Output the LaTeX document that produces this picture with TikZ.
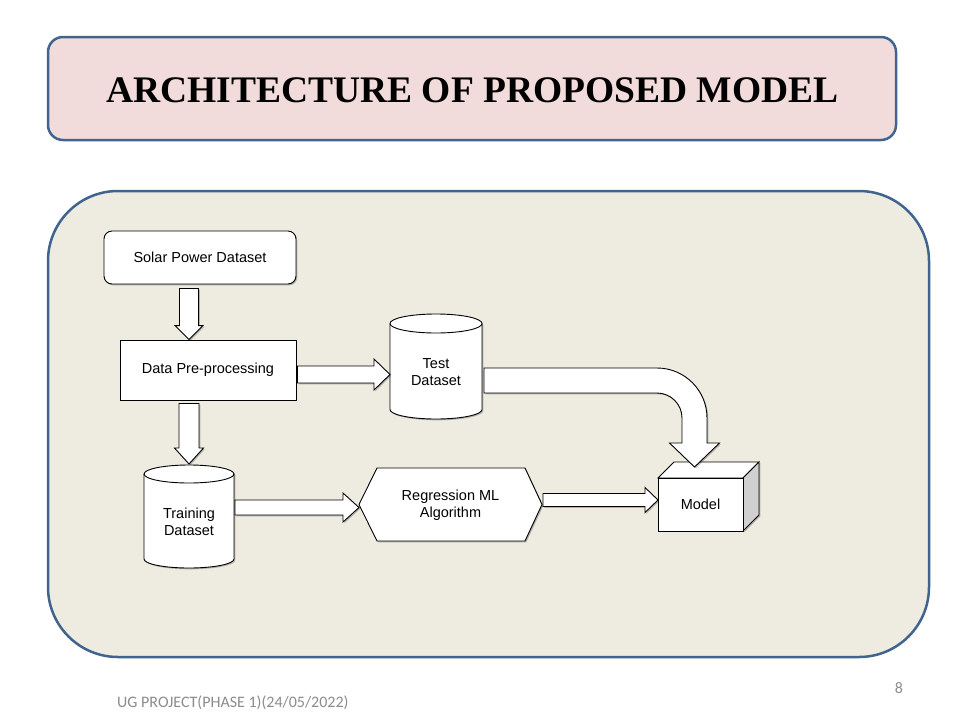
\documentclass[tikz,border=0pt]{standalone}
\usepackage{fontspec}
\setmainfont{Liberation Sans}
\newfontfamily\titlefont{Liberation Serif}
\newfontfamily\footfont{Carlito}
\usetikzlibrary{calc,shadows}
\definecolor{panelfill}{HTML}{EEECE1}
\definecolor{titlefill}{HTML}{F2DCDB}
\definecolor{frameblue}{HTML}{41648F}
\definecolor{footgray}{HTML}{8C8C8C}
\definecolor{sidegray}{HTML}{D0D0D0}
\tikzset{
  frame/.style={draw=frameblue, line width=2.5pt, inner sep=0pt},
  softshadow/.style={drop shadow={shadow xshift=1.3pt, shadow yshift=-1.3pt, fill=black, opacity=0.25}},
  boxtext/.style={font=\fontsize{14.5}{17.5}\selectfont, align=center, inner sep=0pt},
  box/.style={boxtext, draw=black, fill=white, line width=0.9pt, softshadow},
  place/.style={inner sep=0pt, outer sep=0pt},
  shapeline/.style={draw=black, fill=white, line width=0.9pt, softshadow},
  barrow/.style={draw=black, fill=white, line width=0.9pt, line join=miter, softshadow}
}
% down block arrow: start, end, shaft half width, head half width, head length
\newcommand\vblock[5]{%
  \filldraw[barrow] ($(#1)+(-#3,0)$) -- ($(#2)+(-#3,-#5)$) -- ($(#2)+(-#4,-#5)$) -- (#2)
    -- ($(#2)+(#4,-#5)$) -- ($(#2)+(#3,-#5)$) -- ($(#1)+(#3,0)$) -- cycle;}
% right block arrow
\newcommand\hblock[5]{%
  \filldraw[barrow] ($(#1)+(0,-#3)$) -- ($(#2)+(-#5,-#3)$) -- ($(#2)+(-#5,-#4)$) -- (#2)
    -- ($(#2)+(-#5,#4)$) -- ($(#2)+(-#5,#3)$) -- ($(#1)+(0,#3)$) -- cycle;}
% cylinder on a placeholder node: name, x radius, y radius
\newcommand\cylbody[3]{%
  \filldraw[shapeline] ([yshift=-#3pt]#1.north west) -- ([yshift=#3pt]#1.south west)
    arc[start angle=180,end angle=360,x radius=#2pt,y radius=#3pt]
    -- ([yshift=-#3pt]#1.north east)
    arc[start angle=0,end angle=180,x radius=#2pt,y radius=#3pt] -- cycle;
  \draw[line width=0.9pt] ([yshift=-#3pt]#1.north west)
    arc[start angle=180,end angle=360,x radius=#2pt,y radius=#3pt];}
\begin{document}
\begin{tikzpicture}[x=1pt,y=-1pt]
\useasboundingbox (0,0) rectangle (960,720);
\fill[white] (0,0) rectangle (960,720);

% title
\node[frame, fill=titlefill, rounded corners=15pt, minimum width=848pt, minimum height=103pt] (title) at (472,88.5) {};
\node[font=\titlefont\bfseries\fontsize{37.5}{40}\selectfont, anchor=base, inner sep=0pt] (titletext) at (472.5,102.7) {ARCHITECTURE OF PROPOSED MODEL};

% panel
\node[frame, fill=panelfill, rounded corners=70pt, minimum width=881pt, minimum height=466pt] (panel) at (488.5,424) {};

% nodes
\node[box, rounded corners=8pt, minimum width=192pt, minimum height=53pt] (solar) at (200,257.5) {Solar Power Dataset};
\node[box, minimum width=176pt, minimum height=60pt] (prep) at (208,370) {Data Pre-processing};

\node[place, minimum width=92pt, minimum height=105pt] (test) at (436,366.5) {};
\cylbody{test}{46}{9.5}
\node[boxtext] (testtxt) at (436,372) {Test\\Dataset};

\node[place, minimum width=90pt, minimum height=103pt] (train) at (189,516.5) {};
\cylbody{train}{45}{9}
\node[boxtext] (traintxt) at (189,522) {Training\\Dataset};

\node[place, minimum width=183pt, minimum height=73pt] (algo) at (450.5,504.5) {};
\filldraw[shapeline] (algo.west) -- ([xshift=18pt]algo.north west) -- ([xshift=-17pt]algo.north east)
  -- (algo.east) -- ([xshift=-17pt]algo.south east) -- ([xshift=18pt]algo.south west) -- cycle;
\node[boxtext] (algotxt) at (450.5,505) {Regression ML\\Algorithm};

\node[place, minimum width=85pt, minimum height=53pt] (model) at (700.5,504.5) {};
\filldraw[shapeline] (model.north west) -- ++(16,-16) -- ($(model.north east)+(16,-16)$) -- (model.north east) -- cycle;
\filldraw[shapeline, fill=sidegray] (model.north east) -- ++(16,-16) -- ($(model.south east)+(16,-16)$) -- (model.south east) -- cycle;
\filldraw[shapeline] (model.north west) rectangle (model.south east);
\node[boxtext] (modeltxt) at (model.center) {Model};

% connector end points
\coordinate (a1s) at ($(solar.south)+(-11,4)$);
\coordinate (a1e) at ($(prep.north)+(-19,0)$);
\coordinate (a2s) at ($(prep.south)+(-19,3)$);
\coordinate (a2e) at ($(train.north)+(0,-1)$);
\coordinate (a3s) at ($(prep.east)+(1,4.5)$);
\coordinate (a3e) at ($(test.west)+(0,8)$);
\coordinate (a4s) at ($(train.east)+(1,-9)$);
\coordinate (a4e) at ($(algo.west)+(0,3)$);
\coordinate (a5s) at ($(algo.east)+(1,-4.5)$);
\coordinate (a5e) at ($(model.west)+(0,-4.5)$);
\coordinate (tstart) at ($(test.east)+(2,14)$);
\coordinate (mtip) at ($(model.north)+(-6,-11)$);

% connectors
\vblock{a1s}{a1e}{9.5}{14}{14}
\vblock{a2s}{a2e}{10}{14.5}{16}
\hblock{a3s}{a3e}{8.5}{15.5}{16}
\hblock{a4s}{a4e}{7.5}{14.5}{16}
\hblock{a5s}{a5e}{6.5}{12.5}{13}
\filldraw[barrow] ($(tstart)+(0,-12.5)$) -- ($(tstart -| mtip)+(-37.5,-12.5)$)
  arc[start angle=90,end angle=0,radius=50pt]
  -- ($(mtip)+(12.5,-24)$) -- ($(mtip)+(25,-24)$) -- (mtip) -- ($(mtip)+(-25,-24)$) -- ($(mtip)+(-12.5,-24)$)
  -- ($(tstart -| mtip)+(-12.5,37.5)$)
  arc[start angle=0,end angle=90,radius=25pt]
  -- ($(tstart)+(0,12.5)$) -- cycle;

% footer
\node[anchor=base west, font=\footfont\fontsize{16}{19}\selectfont, text=footgray, inner sep=0pt] (foot) at (117,707) {UG PROJECT(PHASE 1)(24/05/2022)};
\node[anchor=base, font=\footfont\fontsize{16}{19}\selectfont, text=footgray, inner sep=0pt] (pagenum) at (899,693) {8};
\end{tikzpicture}
\end{document}
